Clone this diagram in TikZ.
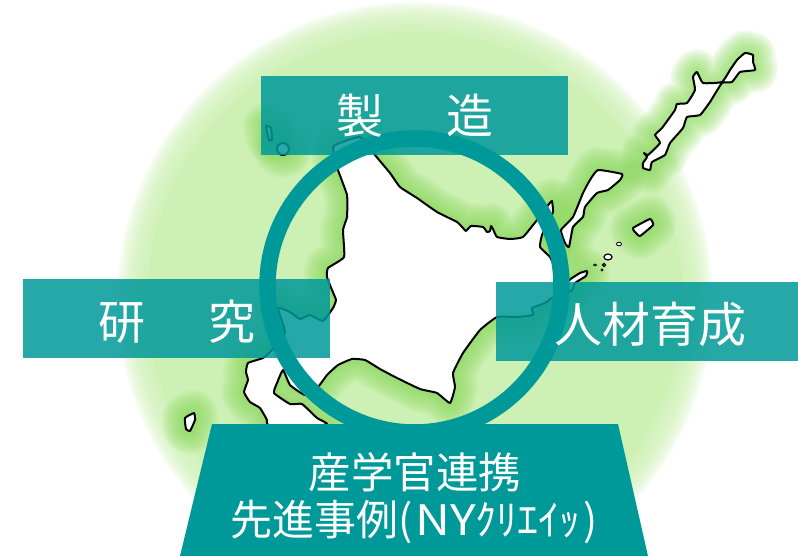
\documentclass[tikz,border=0pt]{standalone}
\usepackage{fontspec}
\newfontfamily\cjk{Noto Sans CJK JP}
\definecolor{qqzzzz}{rgb}{0,0.6,0.6}
\definecolor{zzffbb}{rgb}{0.804,0.941,0.706}
\definecolor{zzeewe}{rgb}{0.56,0.86,0.38}
\def\honshima{plot[smooth cycle,tension=0.25] coordinates {(333,147) (345,141) (360,137) (370,146) (375,155) (390,173) (400,187) (417,198) (437,212) (457,222) (463,228) (466,231) (471,226) (483,227) (487,232) (490,231) (491,226) (493,229) (497,237) (510,239) (523,237) (537,220) (549,204) (552,201) (553,212) (548,222) (542,235) (540,247) (550,257) (556,270) (566,282) (572,278) (580,273) (587,271) (586,276) (575,283) (572,290) (563,295) (552,298) (545,303) (532,308) (533,315) (517,317) (497,317) (480,330) (463,353) (453,373) (455,387) (450,403) (437,393) (420,389) (397,378) (380,369) (365,360) (352,359) (338,365) (327,375) (318,387) (305,395) (290,385) (283,370) (277,383) (274,393) (290,404) (302,404) (317,418) (327,424) (300,430) (268,425) (267,420) (260,408) (250,402) (244,392) (248,380) (246,372) (248,363) (263,358) (270,352) (285,333) (278,308) (290,312) (300,319) (310,315) (323,321) (333,308) (336,300) (332,290) (327,277) (328,268) (344,257) (343,230) (347,217) (347,195) (338,170)}}
\def\kunashiri{plot[smooth cycle,tension=0.25] coordinates {(598,170) (622,174) (620,180) (608,190) (597,193) (585,207) (583,217) (573,227) (569,247) (565,243) (561,230) (573,217) (583,193) (590,180)}}
\def\etorofu{plot[smooth cycle,tension=0.25] coordinates {(643,168) (650,170) (652,162) (665,155) (670,143) (683,128) (687,117) (700,115) (710,102) (722,83) (732,82) (740,72) (755,70) (753,62) (753,55) (745,53) (737,60) (730,70) (722,82) (703,83) (697,72) (693,77) (695,90) (687,103) (677,104) (675,110) (662,128) (655,135) (660,143) (648,155) (644,153) (647,157) (643,163)}}
\def\shikotan{plot[smooth cycle,tension=0.25] coordinates {(633,228) (650,219) (653,225) (640,236) (635,232)}}
\def\okushiri{plot[smooth cycle,tension=0.25] coordinates {(185,418) (194,413) (195,420) (190,431) (186,429)}}
\def\rebun{plot[smooth cycle,tension=0.25] coordinates {(266,126) (271,128) (272,140) (269,140)}}
\def\rishiri{(283,149) circle (6pt)}
\begin{document}
\begin{tikzpicture}[line cap=round,line join=round,x=1pt,y=-1pt]
	\useasboundingbox (0,0) rectangle (798,556);
	\clip (0,0) rectangle (798,556);
	% disc and its soft edge
	\foreach \r in {298,296,...,268}
		\fill[color=zzffbb,opacity=0.14] (415,300) circle (\r pt);
	\fill[color=zzffbb] (415,300) circle (268pt);
	% glow along the coast
	\foreach \w in {46,43,...,4} {
		\draw[color=zzeewe,opacity=0.085,line width=\w pt] \honshima;
		\draw[color=zzeewe,opacity=0.085,line width=\w pt] \kunashiri;
		\draw[color=zzeewe,opacity=0.085,line width=\w pt] \etorofu;
		\draw[color=zzeewe,opacity=0.085,line width=\w pt] \shikotan;
		\draw[color=zzeewe,opacity=0.085,line width=\w pt] \okushiri;
		\draw[color=zzeewe,opacity=0.085,line width=\w pt] \rishiri;
		\draw[color=zzeewe,opacity=0.085,line width=\w pt] \rebun;
	}
	\draw[line width=2pt,fill=white] \honshima;
	\draw[line width=2pt,fill=white] \kunashiri;
	\draw[line width=2pt,fill=white] \etorofu;
	\draw[line width=2pt,fill=white] \shikotan;
	\draw[line width=2pt,fill=white] \okushiri;
	\draw[line width=2pt,fill=white] \rishiri;
	\draw[line width=2pt,fill=white] \rebun;
	\draw[line width=1.2pt,fill=white] (608,257) ellipse (4pt and 3pt);
	\draw[line width=0.8pt,fill=white] (619,244) ellipse (2.5pt and 1.8pt);
	\draw[line width=1.2pt,fill=white] (604,265) circle (1.6pt);
	\draw[line width=0.7pt,fill=white] (595,265) ellipse (1.8pt and 1pt);
	\draw[line width=0.7pt,fill=white] (602,270) circle (1.1pt);
	% bands
	\fill[color=qqzzzz,opacity=0.85] (261,76) rectangle (568,155);
	\fill[color=qqzzzz,opacity=0.85] (23,279) rectangle (330,358);
	\fill[color=qqzzzz,opacity=0.85] (496,282) rectangle (798,361);
	\draw[color=qqzzzz,line width=16.5pt] (414.5,285.5) circle (147pt);
	\fill[color=qqzzzz] (212,424) -- (618,424) -- (648,556) -- (180,556) -- cycle;
	% labels
	\node (seizo) [text=white,inner sep=0pt] at (415,116) {\cjk\fontsize{47}{47}\selectfont 製\hspace{63pt}造};
	\node (kenkyu) [text=white,inner sep=0pt] at (177,322) {\cjk\fontsize{47}{47}\selectfont 研\hspace{63pt}究};
	\node (jinzai) [text=white,inner sep=0pt] at (650,324) {\cjk\fontsize{48}{48}\selectfont 人材育成};
	\node (renkei) [text=white,inner sep=0pt] at (415,472) {\cjk\fontsize{42.5}{42.5}\selectfont 産学官連携};
	\node (jirei) [text=white,inner sep=0pt] at (414,522) {\cjk\fontsize{42}{42}\selectfont 先進事例(\hspace{3pt}\scalebox{1.15}[1]{NY}ｸﾘｴｲｯ\hspace{3pt})};
\end{tikzpicture}
\end{document}
